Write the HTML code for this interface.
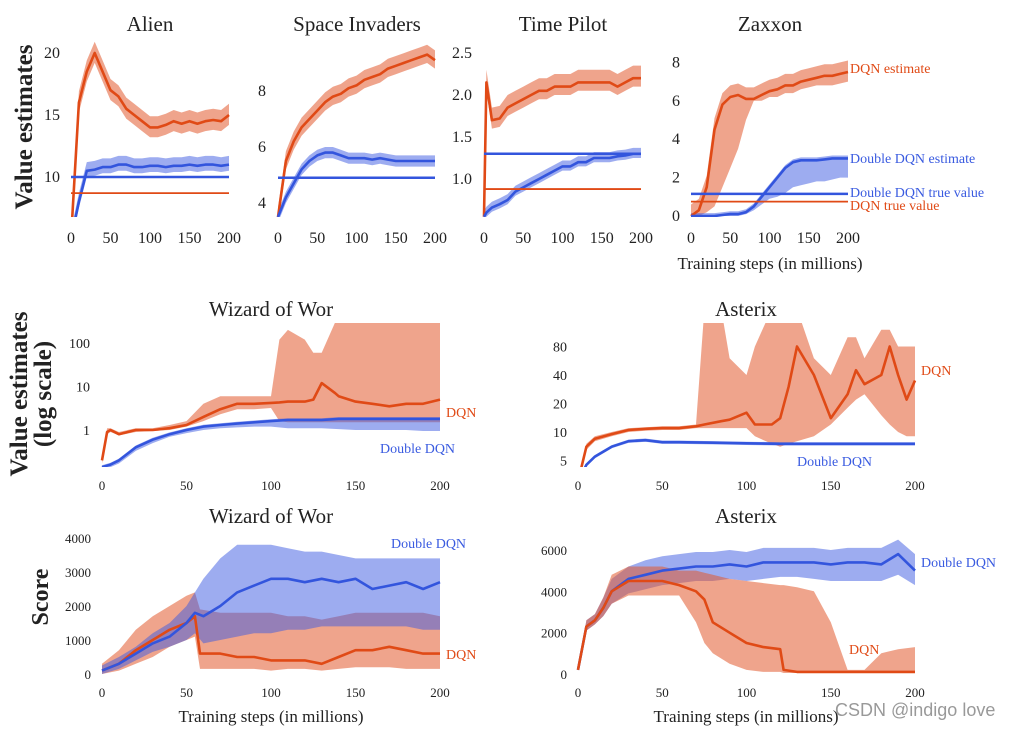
<!DOCTYPE html>
<html><head><meta charset="utf-8"><style>
body{margin:0;background:#fff;}
svg text{font-family:"Liberation Serif",serif;fill:#222;}
</style></head><body>
<svg id="chart" width="1021" height="731" viewBox="0 0 1021 731" xmlns="http://www.w3.org/2000/svg">
<g id="static" font-family="Liberation Serif, serif">
<text x="150" y="31" font-size="21" text-anchor="middle">Alien</text>
<text x="357" y="31" font-size="21" text-anchor="middle">Space Invaders</text>
<text x="563" y="31" font-size="21" text-anchor="middle">Time Pilot</text>
<text x="770" y="31" font-size="21" text-anchor="middle">Zaxxon</text>
<text x="271" y="316" font-size="21" text-anchor="middle">Wizard of Wor</text>
<text x="746" y="316" font-size="21" text-anchor="middle">Asterix</text>
<text x="271" y="523" font-size="21" text-anchor="middle">Wizard of Wor</text>
<text x="746" y="523" font-size="21" text-anchor="middle">Asterix</text>
<text transform="translate(32,127) rotate(-90)" font-size="25" font-weight="bold" text-anchor="middle">Value estimates</text>
<text transform="translate(27,394) rotate(-90)" font-size="25" font-weight="bold" text-anchor="middle">Value estimates</text>
<text transform="translate(51,394) rotate(-90)" font-size="25" font-weight="bold" text-anchor="middle">(log scale)</text>
<text transform="translate(48,597) rotate(-90)" font-size="24" font-weight="bold" text-anchor="middle">Score</text>
<text x="770" y="269" font-size="17" text-anchor="middle">Training steps (in millions)</text>
<text x="271" y="722" font-size="17" text-anchor="middle">Training steps (in millions)</text>
<text x="746" y="722" font-size="17" text-anchor="middle">Training steps (in millions)</text>
<g font-size="14">
<text x="850" y="73" style="fill:#e04a16">DQN estimate</text>
<text x="850" y="163" style="fill:#3a5be0">Double DQN estimate</text>
<text x="850" y="197" style="fill:#3a5be0">Double DQN true value</text>
<text x="850" y="210" style="fill:#e04a16">DQN true value</text>
<text x="446" y="417" style="fill:#e04a16">DQN</text>
<text x="380" y="453" style="fill:#3a5be0">Double DQN</text>
<text x="921" y="375" style="fill:#e04a16">DQN</text>
<text x="797" y="466" style="fill:#3a5be0">Double DQN</text>
<text x="391" y="548" style="fill:#3a5be0">Double DQN</text>
<text x="446" y="659" style="fill:#e04a16">DQN</text>
<text x="921" y="567" style="fill:#3a5be0">Double DQN</text>
<text x="849" y="654" style="fill:#e04a16">DQN</text>
</g>
<text x="835" y="716" font-size="18" style="font-family:'Liberation Sans',sans-serif;fill:#999">CSDN @indigo  love</text>
</g>
<g id="plots"></g>
</svg>
<script>
// ---- data ----
const alienX=[0,10,20,30,40,50,60,70,80,90,100,110,120,130,140,150,160,170,180,190,200];
const alienDqn=[5,16,18.5,20,18.5,17,16.5,15.5,15,14.5,14,14,14.2,14.5,14.3,14.5,14.3,14.5,14.6,14.5,15];
const alienDdqn=[5,8,10.5,10.6,10.8,10.8,11,11,10.8,10.8,10.9,10.9,10.8,10.9,10.9,11,10.9,11,11,10.9,11];
const alienTrue=[8.7,10];
const siX=[0,10,20,30,40,50,60,70,80,90,100,110,120,130,140,150,160,170,180,190,200];
const siDqn=[3.5,5.5,6.2,6.7,7.0,7.3,7.6,7.8,7.9,8.1,8.2,8.4,8.5,8.6,8.8,8.9,9.0,9.1,9.2,9.3,9.1];
const siDdqn=[3.5,4.2,4.7,5.2,5.5,5.7,5.8,5.8,5.7,5.6,5.6,5.6,5.55,5.6,5.55,5.5,5.5,5.5,5.5,5.5,5.5];
const siTrue=[4.9,4.9];
const tpX=[0,3,10,20,30,40,50,60,70,80,90,100,110,120,130,140,150,160,170,180,190,200];
const tpDqn=[0.55,2.15,1.7,1.72,1.85,1.9,1.95,2.0,2.05,2.05,2.1,2.1,2.1,2.15,2.15,2.15,2.15,2.15,2.1,2.15,2.2,2.2];
const tpDdqn=[0.55,0.6,0.66,0.7,0.75,0.85,0.9,0.95,1.0,1.05,1.1,1.15,1.15,1.2,1.2,1.25,1.25,1.25,1.27,1.28,1.3,1.3];
const tpTrue=[0.88,1.3];
const zxX=[0,10,20,30,40,50,60,70,80,90,100,110,120,130,140,150,160,170,180,190,200];
const zxDqn=[0,0.3,1.5,4.5,5.8,6.2,6.3,6.1,6.1,6.3,6.5,6.6,6.8,6.8,7.0,7.1,7.2,7.3,7.3,7.4,7.5];
const zxDqnLo=[0,0,0.2,0.5,1.5,2.5,3.5,5.0,6.0,6.0,6.2,6.2,6.4,6.4,6.6,6.7,6.8,6.8,6.8,6.9,7.0];
const zxDdqn=[0,0,0,0,0.05,0.1,0.1,0.2,0.5,1.0,1.5,2.0,2.5,2.8,2.9,2.9,2.9,2.95,3.0,3.0,3.0];
const zxDdqnLo=[0,0,0,0,0,0,0,0.1,0.3,0.6,0.9,1.0,1.2,1.5,1.6,1.7,1.8,1.8,1.9,2.0,2.0];
const zxTrue=[0.75,1.15];
const wvX=[0,3,5,10,20,30,40,50,60,70,80,90,100,105,110,120,125,130,138,140,150,160,170,180,190,200];
const wvDqn=[0.2,0.9,1.0,0.8,1.0,1.0,1.1,1.3,2.0,3,4,4,4.2,4.3,4.5,4.5,5,12,7,6,4.5,4,3.5,4,4,5];
const wvDqnLo=[0.17,0.8,0.9,0.75,0.9,0.95,1.0,1.2,1.6,2.3,3,3,3.2,1.6,1.5,1.5,1.5,1.5,1.5,1.5,1.5,1.5,1.5,1.5,1.5,1.5];
const wvDqnHi=[0.25,1.1,1.1,0.9,1.1,1.1,1.3,1.6,4,6,6,6,6,120,200,120,60,60,300,300,300,300,300,300,300,300];
const wvDdqnX=[0,5,10,20,30,40,50,60,70,80,90,100,110,120,130,140,150,160,170,180,190,200];
const wvDdqn=[0.14,0.16,0.2,0.4,0.6,0.8,1.0,1.2,1.3,1.4,1.5,1.6,1.7,1.7,1.7,1.8,1.8,1.8,1.8,1.8,1.8,1.8];
const wvDdqnLo=[0.13,0.14,0.17,0.33,0.5,0.7,0.85,1.0,1.1,1.15,1.2,1.2,1.1,1.1,1.1,1.05,1.0,1.0,1.0,1.0,0.95,0.95];
const avX=[0,5,10,20,30,40,50,60,70,75,85,90,100,105,115,120,125,130,140,150,160,165,170,180,185,190,195,200];
const avDqn=[3,7,8.5,9.5,10.5,10.8,11,11,11.5,12,13,13.5,16,12,12,14,30,80,40,14,25,45,32,40,80,40,22,35];
const avDqnLo=[2.8,6.5,8,9,10,10.3,10.5,10.5,11,11,11,11,11,9,7.5,7,7.5,8,9,12,18,22,25,15,12,10,9,9];
const avDqnHi=[3.2,7.5,9,10,11,11.2,11.5,11.5,12,200,200,60,40,80,200,200,200,200,60,40,100,100,60,120,120,80,80,80];
const avDdqnX=[0,5,10,20,30,40,50,60,80,100,120,140,160,180,200];
const avDdqn=[3,4.5,5.5,7,8,8.2,7.8,7.8,7.7,7.6,7.5,7.5,7.5,7.5,7.5];
const wsX=[0,10,20,30,40,50,55,58,70,80,90,100,110,120,130,140,150,160,170,180,190,200];
const wsDqn=[100,300,700,1000,1300,1500,1700,600,600,500,500,400,400,400,300,500,700,700,800,700,600,600];
const wsDqnLo=[0,100,300,500,800,1000,1100,150,150,150,150,100,150,150,100,150,200,200,200,150,150,150];
const wsDqnHi=[300,700,1300,1700,2000,2300,2400,1900,1800,1800,1800,1800,1700,1700,1600,1700,1800,1800,1800,1800,1800,1700];
const wsDdqnX=[0,10,20,30,40,50,55,60,70,80,90,100,110,120,130,140,150,160,170,180,190,200];
const wsDdqn=[100,300,600,900,1100,1500,1800,1700,2000,2400,2600,2800,2800,2700,2800,2700,2800,2500,2600,2700,2500,2700];
const wsDdqnLo=[0,150,400,650,800,1000,1200,900,1000,1100,1200,1200,1300,1300,1400,1400,1400,1400,1400,1400,1300,1300];
const wsDdqnHi=[250,500,800,1200,1500,2000,2400,2800,3400,3800,3800,3800,3700,3600,3600,3500,3400,3400,3400,3400,3400,3400];
const asX=[0,5,10,15,20,30,40,50,60,70,75,80,90,100,110,120,122,130,140,150,160,170,180,190,200];
const asDqn=[200,2300,2600,3200,4000,4500,4500,4500,4300,4000,3600,2500,2000,1500,1300,1200,200,100,100,100,100,100,100,100,100];
const asDqnLo=[150,2100,2400,2800,3400,3800,3800,3800,3800,2500,1500,1000,500,200,100,100,50,50,50,50,50,50,50,50,50];
const asDqnHi=[300,2600,2900,3700,4800,5200,5200,5200,5000,5000,4900,4800,4600,4500,4400,4300,4300,4200,4000,2500,200,200,1000,1200,1300];
const asDdqnX=[0,5,10,15,20,30,40,50,60,70,80,90,100,110,120,130,140,150,160,170,180,190,200];
const asDdqn=[200,2300,2600,3200,4000,4600,4800,5000,5100,5200,5200,5300,5200,5400,5400,5400,5400,5300,5400,5400,5300,5800,5000];
const asDdqnLo=[150,2100,2400,2800,3400,3900,4100,4300,4400,4500,4500,4600,4500,4600,4700,4700,4600,4500,4500,4500,4500,4800,4300];
const asDdqnHi=[300,2600,2900,3700,4600,5200,5500,5700,5800,5900,5900,6000,5900,6100,6100,6100,6100,6000,6100,6100,6100,6500,5800];
// tick labels
const tAlien=[10,15,20], tSI=[4,6,8], tTP=[1.0,1.5,2.0,2.5], tZx=[0,2,4,6,8];
const tWv=[1,10,100], tAv=[5,10,20,40,80], tWs=[0,1000,2000,3000,4000], tAs=[0,2000,4000,6000];
const xTicks=[0,50,100,150,200];

const RED='#e04a16', BLUE='#3355dd', RFILL='rgba(226,90,45,0.55)', BFILL='rgba(60,90,225,0.5)';
const NS='http://www.w3.org/2000/svg';
const root=document.getElementById('plots');
let clipN=0;
function mk(tag,attrs,parent){const e=document.createElementNS(NS,tag);for(const k in attrs)e.setAttribute(k,attrs[k]);(parent||root).appendChild(e);return e;}
function panel(p){
  const g=mk('g',{});
  
  
  const id='c'+(clipN++);
  const cp=mk('clipPath',{id:id},g);mk('rect',{x:p.x0-3,y:p.top,width:p.x1-p.x0+6,height:p.bottom-p.top},cp);
  const sx=v=>p.x0+(p.x1-p.x0)*v/200;
  const pg=mk('g',{'clip-path':'url(#'+id+')'},g);
  xTicks.forEach(t=>{const tx=mk('text',{x:sx(t),y:p.xty,'font-size':p.xfs||15,'text-anchor':'middle'},g);tx.textContent=t;
    
    });
  p.yticks.forEach(t=>{const tx=mk('text',{x:p.ytx,y:p.sy(t)+5,'font-size':p.yfs||15,'text-anchor':'end'},g);tx.textContent=p.fmt?p.fmt(t):t;
    
    });
  (p.series||[]).forEach(s=>{
    if(s.lo&&s.hi){
      let d='';s.x.forEach((x,i)=>{d+=(i?'L':'M')+sx(x).toFixed(1)+','+p.sy(s.hi[i]).toFixed(1);});
      for(let i=s.x.length-1;i>=0;i--)d+='L'+sx(s.x[i]).toFixed(1)+','+p.sy(s.lo[i]).toFixed(1);
      const b=mk('path',{d:d+'Z',fill:s.fill,stroke:'none'},pg);
      
      
    }
  });
  (p.series||[]).forEach(s=>{
    let d='';s.x.forEach((x,i)=>{d+=(i?'L':'M')+sx(x).toFixed(1)+','+p.sy(s.y[i]).toFixed(1);});
    const l=mk('path',{d:d,fill:'none',stroke:s.color,'stroke-width':2.6,'stroke-linejoin':'round'},pg);
    
    
  });
  (p.hlines||[]).forEach(h=>{
    const l=mk('line',{x1:sx(0),x2:sx(200),y1:p.sy(h.v),y2:p.sy(h.v),stroke:h.color,'stroke-width':h.w||2},pg);
    
    
  });
}
function band(arr,d){return arr.map(v=>v-d);} function bandU(arr,d){return arr.map(v=>v+d);}
panel({name:'alien-panel',x0:71,x1:229,top:38,bottom:217,sy:v=>177-12.4*(v-10),yticks:tAlien,ytx:60,xty:243,yfs:16,xfs:16,
  series:[{name:'alien-dqn',x:alienX,y:alienDqn,lo:band(alienDqn,0.8),hi:bandU(alienDqn,0.9),color:RED,fill:RFILL},
          {name:'alien-ddqn',x:alienX,y:alienDdqn,lo:band(alienDdqn,0.5),hi:bandU(alienDdqn,0.7),color:BLUE,fill:BFILL}],
  hlines:[{name:'alien-dqn-true',v:alienTrue[0],color:RED,w:1.8},{name:'alien-ddqn-true',v:alienTrue[1],color:BLUE,w:2.5}]});
panel({name:'space-invaders-panel',x0:278,x1:435,top:38,bottom:217,sy:v=>147-28*(v-6),yticks:tSI,ytx:266,xty:243,yfs:16,xfs:16,
  series:[{name:'si-dqn',x:siX,y:siDqn,lo:band(siDqn,0.3),hi:bandU(siDqn,0.35),color:RED,fill:RFILL},
          {name:'si-ddqn',x:siX,y:siDdqn,lo:band(siDdqn,0.2),hi:bandU(siDdqn,0.2),color:BLUE,fill:BFILL}],
  hlines:[{name:'si-dqn-true',v:siTrue[0],color:RED,w:2},{name:'si-ddqn-true',v:siTrue[1],color:BLUE,w:2.5}]});
panel({name:'time-pilot-panel',x0:484,x1:641,top:38,bottom:217,sy:v=>179-84*(v-1),yticks:tTP,ytx:472,xty:243,yfs:16,xfs:16,fmt:t=>t.toFixed(1),
  series:[{name:'tp-dqn',x:tpX,y:tpDqn,lo:band(tpDqn,0.1),hi:bandU(tpDqn,0.15),color:RED,fill:RFILL},
          {name:'tp-ddqn',x:tpX,y:tpDdqn,lo:band(tpDdqn,0.05),hi:bandU(tpDdqn,0.07),color:BLUE,fill:BFILL}],
  hlines:[{name:'tp-dqn-true',v:tpTrue[0],color:RED,w:1.8},{name:'tp-ddqn-true',v:tpTrue[1],color:BLUE,w:2.5}]});
panel({name:'zaxxon-panel',x0:691,x1:848,top:38,bottom:217,sy:v=>216-19.2*v,yticks:tZx,ytx:680,xty:243,yfs:16,xfs:16,
  series:[{name:'zx-dqn',x:zxX,y:zxDqn,lo:zxDqnLo,hi:bandU(zxDqn,0.6),color:RED,fill:RFILL},
          {name:'zx-ddqn',x:zxX,y:zxDdqn,lo:zxDdqnLo,hi:bandU(zxDdqn,0.15),color:BLUE,fill:BFILL}],
  hlines:[{name:'zx-dqn-true',v:zxTrue[0],color:RED,w:1.8},{name:'zx-ddqn-true',v:zxTrue[1],color:BLUE,w:2.5}]});
panel({name:'wizard-value-panel',x0:102,x1:440,top:323,bottom:467,sy:v=>430-43.5*Math.log10(v),yticks:tWv,ytx:90,xty:490,xfs:13,yfs:14,
  series:[{name:'wv-dqn',x:wvX,y:wvDqn,lo:wvDqnLo,hi:wvDqnHi,color:RED,fill:RFILL},
          {name:'wv-ddqn',x:wvDdqnX,y:wvDdqn,lo:wvDdqnLo,hi:wvDdqn.map(v=>v*1.1),color:BLUE,fill:BFILL}]});
panel({name:'asterix-value-panel',x0:578,x1:915,top:323,bottom:467,sy:v=>432-28.5*Math.log2(v/10),yticks:tAv,ytx:567,xty:490,xfs:13,yfs:14,
  series:[{name:'av-dqn',x:avX,y:avDqn,lo:avDqnLo,hi:avDqnHi,color:RED,fill:RFILL},
          {name:'av-ddqn',x:avDdqnX,y:avDdqn,lo:avDdqn.map(v=>v*0.96),hi:avDdqn.map(v=>v*1.04),color:BLUE,fill:BFILL}]});
panel({name:'wizard-score-panel',x0:102,x1:440,top:530,bottom:677,sy:v=>674-0.034*v,yticks:tWs,ytx:91,xty:697,xfs:13,yfs:13,
  series:[{name:'ws-dqn',x:wsX,y:wsDqn,lo:wsDqnLo,hi:wsDqnHi,color:RED,fill:RFILL},
          {name:'ws-ddqn',x:wsDdqnX,y:wsDdqn,lo:wsDdqnLo,hi:wsDdqnHi,color:BLUE,fill:BFILL}]});
panel({name:'asterix-score-panel',x0:578,x1:915,top:530,bottom:677,sy:v=>674-0.02067*v,yticks:tAs,ytx:567,xty:697,xfs:13,yfs:13,
  series:[{name:'as-ddqn',x:asDdqnX,y:asDdqn,lo:asDdqnLo,hi:asDdqnHi,color:BLUE,fill:BFILL},
          {name:'as-dqn',x:asX,y:asDqn,lo:asDqnLo,hi:asDqnHi,color:RED,fill:RFILL}]});
</script>
</body></html>
